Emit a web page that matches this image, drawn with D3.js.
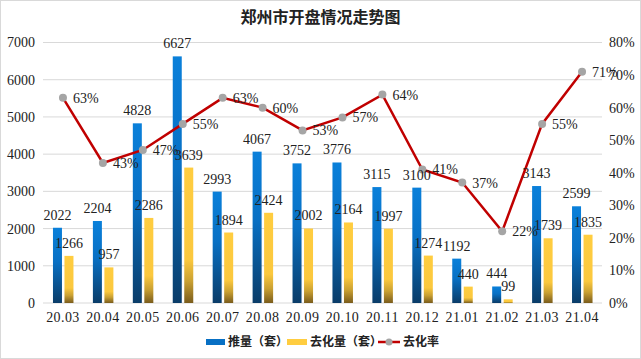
<!DOCTYPE html>
<html><head><meta charset="utf-8">
<script src="https://cdn.jsdelivr.net/npm/d3@7/dist/d3.min.js"></script>
<style>body{margin:0;background:#fff;}svg{display:block;}</style>
</head><body>
<svg id="c" width="641" height="359"></svg>
<script>
const categories = ["20.03","20.04","20.05","20.06","20.07","20.08","20.09","20.10","20.11","20.12","21.01","21.02","21.03","21.04"];
const supply = [2022,2204,4828,6627,2993,4067,3752,3776,3115,3100,1192,444,3143,2599];
const sold = [1266,957,2286,3639,1894,2424,2002,2164,1997,1274,440,99,1739,1835];
const rate = [63,43,47,55,63,60,53,57,64,41,37,22,55,71];
const leftTicks = [0,1000,2000,3000,4000,5000,6000,7000];
const rightTicks = [0,10,20,30,40,50,60,70,80];
const seriesNames = ["推量（套）","去化量（套）","去化率"];

const svg = d3.select("#c");
const serif = "'Liberation Serif','Times New Roman',serif";
const cjk = "'Noto Sans CJK SC','Noto Sans',sans-serif";

svg.append("rect").attr("x",0.5).attr("y",0.5).attr("width",640).attr("height",358)
  .attr("fill","#fff").attr("stroke","#d9d9d9");

const defs = svg.append("defs");
const gb = defs.append("linearGradient").attr("id","gBlue").attr("x1",0).attr("y1",0).attr("x2",0).attr("y2",1);
[[0,"#0a80da"],[0.45,"#0870c4"],[1,"#0a3c68"]].forEach(s=>gb.append("stop").attr("offset",s[0]).attr("stop-color",s[1]));
const gg = defs.append("linearGradient").attr("id","gGold").attr("x1",0).attr("y1",0).attr("x2",0).attr("y2",1);
[[0,"#ffcd40"],[0.68,"#fbc83e"],[0.84,"#c9a032"],[1,"#7a5c1c"]].forEach(s=>gg.append("stop").attr("offset",s[0]).attr("stop-color",s[1]));

const L=43, R=602, T=42.5, B=303;
const x = d3.scaleBand().domain(categories).range([L,R]);
const y = d3.scaleLinear().domain([0,7000]).range([B,T]);
const y2 = d3.scaleLinear().domain([0,80]).range([B,T]);

// gridlines
svg.append("g").selectAll("line").data(leftTicks).join("line")
  .attr("x1",L).attr("x2",R).attr("y1",d=>y(d)).attr("y2",d=>y(d))
  .attr("stroke","#d9d9d9").attr("stroke-width",1);

// left axis
const la = svg.append("g").attr("transform",`translate(${L},0)`)
  .call(d3.axisLeft(y).tickValues(leftTicks).tickSize(0).tickPadding(8).tickFormat(d3.format("d")));
la.select(".domain").remove();
la.selectAll("text").attr("font-family",serif).attr("font-size",14).attr("fill","#222");

// right axis
const ra = svg.append("g").attr("transform",`translate(${R},0)`)
  .call(d3.axisRight(y2).tickValues(rightTicks).tickSize(0).tickPadding(7).tickFormat(d=>d+"%"));
ra.select(".domain").remove();
ra.selectAll("text").attr("font-family",serif).attr("font-size",14).attr("fill","#222");

// x axis
const xa = svg.append("g").attr("transform",`translate(0,${B})`)
  .call(d3.axisBottom(x).tickSize(0).tickPadding(9));
xa.select(".domain").remove();
xa.selectAll("text").attr("font-family",serif).attr("font-size",14).attr("fill","#222").attr("letter-spacing","0.4px");

const cx = d=>x(d)+x.bandwidth()/2;
const bw = 9;

// bars
svg.append("g").selectAll("rect").data(categories).join("rect")
  .attr("x",(d)=>cx(d)-10).attr("width",bw)
  .attr("y",(d,i)=>y(supply[i])).attr("height",(d,i)=>B-y(supply[i]))
  .attr("fill","url(#gBlue)");
svg.append("g").selectAll("rect").data(categories).join("rect")
  .attr("x",(d)=>cx(d)+1.5).attr("width",bw)
  .attr("y",(d,i)=>y(sold[i])).attr("height",(d,i)=>B-y(sold[i]))
  .attr("fill","url(#gGold)");

// line
const line = d3.line().x((d,i)=>cx(categories[i])).y(d=>y2(d));
svg.append("path").datum(rate).attr("d",line).attr("fill","none")
  .attr("stroke","#c00000").attr("stroke-width",2.5);
svg.append("g").selectAll("circle").data(rate).join("circle")
  .attr("cx",(d,i)=>cx(categories[i])).attr("cy",d=>y2(d)).attr("r",4).attr("fill","#a5a5a5");

// labels
svg.append("g").selectAll("text").data(supply).join("text")
  .attr("x",(d,i)=>cx(categories[i])-5.5).attr("y",d=>y(d)-8)
  .attr("text-anchor","middle").attr("font-family",serif).attr("font-size",14).attr("fill","#222")
  .text(d=>d);
svg.append("g").selectAll("text").data(sold).join("text")
  .attr("x",(d,i)=>cx(categories[i])+6).attr("y",d=>y(d)-8)
  .attr("text-anchor","middle").attr("font-family",serif).attr("font-size",14).attr("fill","#222")
  .text(d=>d);
svg.append("g").selectAll("text").data(rate).join("text")
  .attr("x",(d,i)=>cx(categories[i])+10).attr("y",d=>y2(d)+5)
  .attr("font-family",serif).attr("font-size",14).attr("fill","#222")
  .text(d=>d+"%");

// title
svg.append("text").attr("x",320.5).attr("y",23).attr("text-anchor","middle")
  .attr("font-family",cjk).attr("font-weight","bold").attr("font-size",16).attr("fill","#222")
  .text("郑州市开盘情况走势图");

// legend
const lg = svg.append("g").attr("font-family",cjk).attr("font-size",12).attr("font-weight","bold").attr("fill","#222");
lg.append("rect").attr("x",206).attr("y",339).attr("width",19).attr("height",6).attr("fill","#0870c4");
lg.append("text").attr("x",228).attr("y",346).text(seriesNames[0]);
lg.append("rect").attr("x",287).attr("y",339).attr("width",20).attr("height",6).attr("fill","#ffcd40");
lg.append("text").attr("x",310).attr("y",346).text(seriesNames[1]);
lg.append("line").attr("x1",378).attr("x2",400).attr("y1",342).attr("y2",342).attr("stroke","#c00000").attr("stroke-width",2.5);
lg.append("circle").attr("cx",389).attr("cy",342).attr("r",3.5).attr("fill","#a5a5a5");
lg.append("text").attr("x",403).attr("y",346).text(seriesNames[2]);
</script>
</body></html>
